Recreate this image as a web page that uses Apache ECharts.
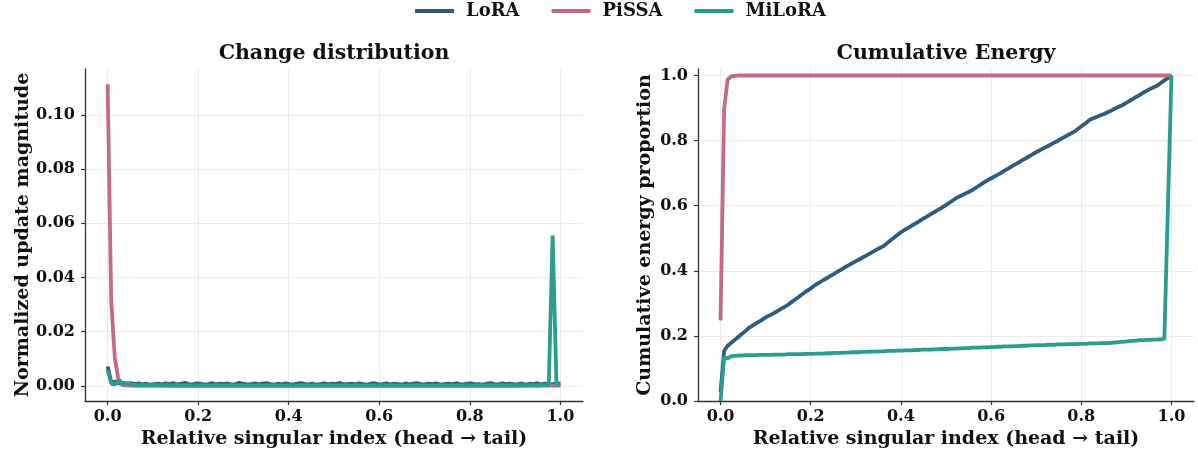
<!DOCTYPE html>
<html><head><meta charset="utf-8">
<script src="https://cdn.jsdelivr.net/npm/echarts@6/dist/echarts.min.js"></script>
<style>html,body{margin:0;padding:0;background:#fff}#c{width:1198px;height:454px}</style>
</head><body><div id="c"></div>
<script>
const seriesNames = ['LoRA', 'PiSSA', 'MiLoRA'];
const xTicks = [0, 0.2, 0.4, 0.6, 0.8, 1.0];
const leftYTicks = [0, 0.02, 0.04, 0.06, 0.08, 0.10];
const rightYTicks = [0, 0.2, 0.4, 0.6, 0.8, 1.0];

// Left panel: normalized update magnitude per relative singular index (128 bins)
const leftLoRA = [0.0072,0.0010,0.0016,0.0009,
0.0011,0.0008,0.0010,0.0007,0.0009,0.0006,0.0008,0.0005,0.0007,0.0008,
0.0006,0.0009,0.0007,0.0010,0.0006,0.0008,0.0011,0.0007,0.0006,0.0009,
0.0008,0.0005,0.0007,0.0010,0.0006,0.0008,0.0007,0.0009,0.0005,0.0007,
0.0011,0.0008,0.0006,0.0007,0.0009,0.0006,0.0008,0.0010,0.0007,0.0005,
0.0008,0.0006,0.0009,0.0007,0.0006,0.0008,0.0010,0.0007,0.0006,0.0008,
0.0005,0.0007,0.0009,0.0006,0.0008,0.0007,0.0011,0.0006,0.0007,0.0008,
0.0006,0.0009,0.0007,0.0005,0.0008,0.0010,0.0006,0.0007,0.0009,0.0006,
0.0008,0.0007,0.0005,0.0009,0.0006,0.0008,0.0010,0.0007,0.0006,0.0008,
0.0007,0.0009,0.0005,0.0007,0.0008,0.0006,0.0010,0.0007,0.0006,0.0008,
0.0009,0.0006,0.0007,0.0005,0.0008,0.0010,0.0007,0.0006,0.0009,0.0007,
0.0008,0.0006,0.0007,0.0009,0.0005,0.0008,0.0007,0.0010,0.0006,0.0008,
0.0007,0.0006,0.0009,0.0008];
const leftPiSSA = [0.1113,0.0315,0.0105,0.0025,0.0004,0.0002,
0.0001,0.0001,0.0000,0.0001,0.0000,0.0000,0.0001,0.0000,0.0000,0.0001,
0.0000,0.0000,0.0000,0.0001,0.0000,0.0000,0.0000,0.0000,0.0001,0.0000,
0.0000,0.0000,0.0000,0.0000,0.0000,0.0001,0.0000,0.0000,0.0000,0.0000,
0.0000,0.0000,0.0000,0.0000,0.0000,0.0000,0.0000,0.0000,0.0000,0.0000,
0.0000,0.0000,0.0000,0.0000,0.0000,0.0000,0.0000,0.0000,0.0000,0.0000,
0.0000,0.0000,0.0000,0.0000,0.0000,0.0000,0.0000,0.0000,0.0000,0.0000,
0.0000,0.0000,0.0000,0.0000,0.0000,0.0000,0.0000,0.0000,0.0000,0.0000,
0.0000,0.0000,0.0000,0.0000,0.0000,0.0000,0.0000,0.0000,0.0000,0.0000,
0.0000,0.0000,0.0000,0.0000,0.0000,0.0000,0.0000,0.0000,0.0000,0.0000,
0.0000,0.0000,0.0000,0.0000,0.0000,0.0000,0.0000,0.0000,0.0000,0.0000,
0.0000,0.0000,0.0000,0.0000,0.0000,0.0000,0.0000,0.0000,0.0001,0.0000,
0.0000,0.0001,0.0000,0.0000,0.0001,0.0000,0.0001,0.0001,0.0001,0.0001,
0.0001,0.0001];
const leftMiLoRA = [0.0058,0.0008,0.0006,0.0022,0.0005,0.0010,0.0006,0.0004,
0.0003,0.0004,0.0003,0.0003,0.0004,0.0003,0.0002,0.0003,0.0003,0.0002,
0.0003,0.0002,0.0002,0.0003,0.0002,0.0002,0.0003,0.0002,0.0002,0.0002,
0.0003,0.0002,0.0002,0.0002,0.0003,0.0002,0.0002,0.0002,0.0002,0.0003,
0.0002,0.0002,0.0002,0.0002,0.0002,0.0003,0.0002,0.0002,0.0002,0.0002,
0.0002,0.0002,0.0003,0.0002,0.0002,0.0002,0.0002,0.0002,0.0002,0.0003,
0.0002,0.0002,0.0002,0.0002,0.0002,0.0002,0.0002,0.0003,0.0002,0.0002,
0.0002,0.0002,0.0002,0.0002,0.0002,0.0003,0.0002,0.0002,0.0002,0.0002,
0.0002,0.0002,0.0003,0.0002,0.0002,0.0002,0.0002,0.0002,0.0003,0.0002,
0.0002,0.0002,0.0002,0.0002,0.0003,0.0002,0.0002,0.0002,0.0003,0.0002,
0.0002,0.0003,0.0002,0.0002,0.0003,0.0002,0.0003,0.0002,0.0003,0.0003,
0.0002,0.0003,0.0003,0.0002,0.0003,0.0003,0.0003,
0.0555,0.0004,0.0005];

// Right panel: cumulative energy proportion (128 bins)
const rightLoRA = [0.027,0.154,0.170,0.179,0.188,0.197,0.206,0.215,0.225,0.232,
0.239,0.245,0.252,0.259,0.264,0.270,0.276,0.283,0.289,0.296,
0.304,0.312,0.320,0.328,0.336,0.343,0.351,0.359,0.365,0.372,
0.378,0.385,0.391,0.398,0.404,0.411,0.417,0.423,0.429,0.435,
0.441,0.447,0.453,0.459,0.465,0.471,0.477,0.486,0.495,0.503,
0.512,0.520,0.527,0.533,0.540,0.546,0.553,0.560,0.566,0.573,
0.579,0.586,0.592,0.599,0.606,0.613,0.621,0.627,0.632,0.638,
0.643,0.649,0.656,0.663,0.670,0.677,0.683,0.689,0.695,0.701,
0.708,0.714,0.721,0.727,0.733,0.740,0.746,0.752,0.759,0.765,
0.771,0.777,0.782,0.788,0.794,0.799,0.806,0.812,0.818,0.824,
0.830,0.839,0.847,0.855,0.864,0.869,0.873,0.878,0.882,0.887,
0.892,0.898,0.903,0.908,0.914,0.921,0.927,0.934,0.940,0.947,
0.953,0.959,0.964,0.969,0.977,0.985,0.992,1.000];
const rightPiSSA = [0.248,0.896,0.988,0.997,0.999,
1,1,1,1,1,1,1,1,1,1, 1,1,1,1,1,1,1,1,1,1, 1,1,1,1,1,1,1,1,1,1,
1,1,1,1,1,1,1,1,1,1, 1,1,1,1,1,1,1,1,1,1, 1,1,1,1,1,1,1,1,1,1,
1,1,1,1,1,1,1,1,1,1, 1,1,1,1,1,1,1,1,1,1, 1,1,1,1,1,1,1,1,1,1,
1,1,1,1,1,1,1,1,1,1, 1,1,1,1,1,1,1,1,1,1, 1,1,1,1,1,1,1,1,1,1,
1,1,1];
const rightMiLoRA = [0.000,0.134,0.131,0.138,0.139,
0.140,0.140,0.141,0.141,0.141,0.141,0.142,0.142,0.142,0.142,0.143,
0.143,0.143,0.143,0.144,0.144,0.144,0.144,0.144,0.145,0.145,
0.145,0.146,0.146,0.146,0.147,0.147,0.148,0.148,0.148,0.149,
0.149,0.150,0.150,0.150,0.151,0.151,0.152,0.152,0.152,0.153,
0.153,0.154,0.154,0.154,0.155,0.155,0.156,0.156,0.156,0.157,
0.157,0.158,0.158,0.158,0.159,0.159,0.160,0.160,
0.160,0.161,0.161,0.162,0.162,0.163,0.163,0.164,0.164,0.164,
0.165,0.165,0.166,0.166,0.167,0.167,0.168,0.168,0.168,0.169,
0.169,0.170,0.170,0.171,0.171,0.172,0.172,
0.172,0.173,0.173,0.173,0.174,0.174,0.174,0.175,0.175,0.175,
0.176,0.176,0.176,0.177,0.177,0.177,0.178,0.178,0.178,
0.179,0.180,0.181,0.182,0.183,0.184,0.185,0.186,0.187,
0.187,0.188,0.188,0.189,0.189,0.190,0.191,
0.595,1.000];

const colors = ['#2f5b7e', '#c26b85', '#2a9d8f'];
const FONT = '"DejaVu Serif", serif';
const AX = '#333333';
const GRIDC = '#ebebeb';

function pairs(arr) { return arr.map((v, i) => [i / (arr.length - 1), v]); }

function xAxisCfg(gi) {
  return {
    gridIndex: gi, type: 'value', min: -0.05, max: 1.05,
    name: 'Relative singular index (head \u2192 tail)', nameLocation: 'middle', nameGap: 28,
    nameTextStyle: { fontFamily: FONT, fontWeight: 'bold', fontSize: 19, color: '#111' },
    axisLine: { show: true, onZero: false, lineStyle: { color: AX, width: 1.3 } },
    axisTick: { show: true, customValues: xTicks, length: 4, lineStyle: { color: AX, width: 1.2 } },
    axisLabel: { customValues: xTicks, margin: 8, fontFamily: FONT, fontWeight: 'bold', fontSize: 16, color: '#111',
      formatter: v => v.toFixed(1) },
    splitLine: { show: true, lineStyle: { color: GRIDC, width: 1 } }
  };
}
function yAxisCfg(gi, name, min, max, ticks, dec, gap) {
  return {
    gridIndex: gi, type: 'value', min: min, max: max,
    name: name, nameLocation: 'middle', nameGap: gap,
    nameTextStyle: { fontFamily: FONT, fontWeight: 'bold', fontSize: 19, color: '#111' },
    axisLine: { show: true, onZero: false, lineStyle: { color: AX, width: 1.3 } },
    axisTick: { show: true, customValues: ticks, length: 4, lineStyle: { color: AX, width: 1.2 } },
    axisLabel: { customValues: ticks, margin: 10, fontFamily: FONT, fontWeight: 'bold', fontSize: 16, color: '#111',
      formatter: v => v.toFixed(dec) },
    splitLine: { show: true, lineStyle: { color: GRIDC, width: 1 } }
  };
}
function lineSeries(name, data, xi, ci) {
  return {
    name: name, type: 'line', xAxisIndex: xi, yAxisIndex: xi, data: pairs(data),
    showSymbol: false, symbol: 'none', color: colors[ci],
    lineStyle: { width: 3.8, color: colors[ci] }, z: 2 + ci
  };
}

const chart = echarts.init(document.getElementById('c'), null, { renderer: 'canvas' });
chart.setOption({
  animation: false,
  backgroundColor: '#ffffff',
  textStyle: { fontFamily: FONT },
  legend: {
    data: seriesNames, top: -3, left: 410, icon: 'rect', itemWidth: 39, itemHeight: 4, itemGap: 32,
    textStyle: { fontFamily: FONT, fontWeight: 'bold', fontSize: 18, color: '#111', padding: [0, 0, 0, 7] }
  },
  title: [
    { text: 'Change distribution', left: 334, top: 43, textAlign: 'center', padding: 0,
      textStyle: { fontFamily: FONT, fontWeight: 'bold', fontSize: 20.5, color: '#111' } },
    { text: 'Cumulative Energy', left: 946, top: 43, textAlign: 'center', padding: 0,
      textStyle: { fontFamily: FONT, fontWeight: 'bold', fontSize: 20.5, color: '#111' } }
  ],
  grid: [
    { left: 85, top: 69, width: 498, height: 333 },
    { left: 698, top: 69, width: 496, height: 333 }
  ],
  xAxis: [xAxisCfg(0), xAxisCfg(1)],
  yAxis: [
    yAxisCfg(0, 'Normalized update magnitude', -0.0056, 0.1169, leftYTicks, 2, 52),
    yAxisCfg(1, 'Cumulative energy proportion', 0, 1.02, rightYTicks, 1, 43)
  ],
  series: [
    lineSeries('LoRA', leftLoRA, 0, 0),
    lineSeries('PiSSA', leftPiSSA, 0, 1),
    lineSeries('MiLoRA', leftMiLoRA, 0, 2),
    lineSeries('LoRA', rightLoRA, 1, 0),
    lineSeries('PiSSA', rightPiSSA, 1, 1),
    lineSeries('MiLoRA', rightMiLoRA, 1, 2)
  ]
});
</script></body></html>
